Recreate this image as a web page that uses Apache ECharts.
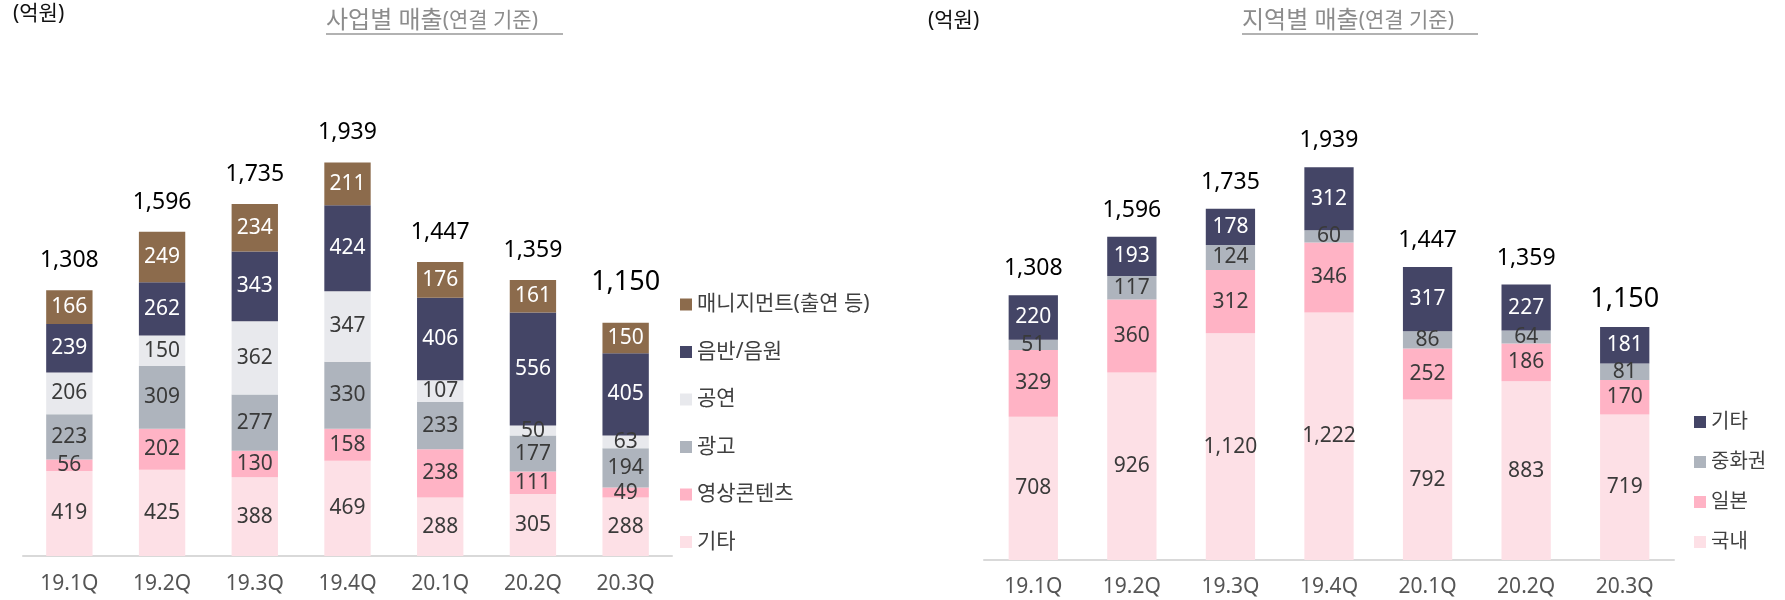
<!DOCTYPE html>
<html>
<head>
<meta charset="utf-8">
<script src="https://cdn.jsdelivr.net/npm/echarts@6/dist/echarts.min.js"></script>
<style>
  body { margin: 0; background: #fff; }
  #left { position: absolute; left: 0; top: 0; width: 900px; height: 600px; }
  #right { position: absolute; left: 900px; top: 0; width: 885px; height: 600px; }
</style>
</head>
<body>
<div id="left"></div>
<div id="right"></div>
<script>
'use strict';

// quarters on the x axis
const quarters = ['19.1Q', '19.2Q', '19.3Q', '19.4Q', '20.1Q', '20.2Q', '20.3Q'];

// totals printed above the bars (same for both charts)
const totals = [1308, 1596, 1735, 1939, 1447, 1359, 1150];

// business segments, bottom of the stack first
const bizEtc = [419, 425, 388, 469, 288, 305, 288];
const bizVideo = [56, 202, 130, 158, 238, 111, 49];
const bizAd = [223, 309, 277, 330, 233, 177, 194];
const bizConcert = [206, 150, 362, 347, 107, 50, 63];
const bizMusic = [239, 262, 343, 424, 406, 556, 405];
const bizMgmt = [166, 249, 234, 211, 176, 161, 150];

// regions, bottom of the stack first
const regKorea = [708, 926, 1120, 1222, 792, 883, 719];
const regJapan = [329, 360, 312, 346, 252, 186, 170];
const regChina = [51, 117, 124, 60, 86, 64, 81];
const regOther = [220, 193, 178, 312, 317, 227, 181];

const FONT = "'Noto Sans', 'Noto Sans CJK KR', sans-serif";

const C_BROWN = '#8c6b4c';
const C_NAVY = '#444566';
const C_LIGHTGRAY = '#e8e9ed';
const C_GRAY = '#aeb4bd';
const C_PINK = '#ffb3c5';
const C_LIGHTPINK = '#fde0e6';

function fmt(v) {
	return v.toLocaleString('en-US');
}

function segment(name, data, color, labelColor) {
	return {
		name: name,
		type: 'bar',
		stack: 'total',
		barWidth: '50%',
		data: data,
		itemStyle: { color: color },
		label: {
			show: true,
			position: 'inside',
			color: labelColor,
			fontFamily: FONT,
			fontSize: 21,
			formatter: function(p) { return fmt(p.value); }
		}
	};
}

// zero-height bar on top of the stack, used only to carry the total label
function totalSeries(distance, lastDistance) {
	const last = totals.length - 1;
	return {
		name: '합계',
		type: 'bar',
		stack: 'total',
		barWidth: '50%',
		data: totals.map(function(t, i) {
			if (i === last) {
				return { value: 0, label: { fontSize: 27, distance: lastDistance } };
			}
			return { value: 0 };
		}),
		itemStyle: { color: 'transparent' },
		label: {
			show: true,
			position: 'top',
			distance: distance,
			color: '#000',
			fontFamily: FONT,
			fontSize: 23,
			formatter: function(p) { return fmt(totals[p.dataIndex]); }
		}
	};
}

function titles(unitLeft, unitTop, main, mainLeft) {
	return [
		{
			text: '(억원)',
			left: unitLeft, top: unitTop, padding: 0,
			textStyle: { fontFamily: FONT, fontSize: 21, fontWeight: 'normal', color: '#111' }
		},
		{
			text: '{a|' + main + '}{b|(연결 기준)}',
			left: mainLeft, top: 9, padding: 0,
			textStyle: {
				fontWeight: 'normal',
				rich: {
					a: { fontFamily: FONT, fontSize: 24, fontWeight: 'normal', color: '#8c8c8c' },
					b: { fontFamily: FONT, fontSize: 21, fontWeight: 'normal', color: '#8c8c8c' }
				}
			}
		}
	];
}

function underline(x1, x2) {
	return [{
		type: 'line',
		shape: { x1: x1, y1: 34, x2: x2, y2: 34 },
		style: { stroke: '#999', lineWidth: 1.5 }
	}];
}

function baseOption(grid, labelMargin) {
	return {
		animation: false,
		grid: grid,
		xAxis: {
			type: 'category',
			data: quarters,
			axisLine: { lineStyle: { color: '#d9d9d9', width: 2 } },
			axisTick: { show: false },
			axisLabel: { color: '#555', fontFamily: FONT, fontSize: 21, margin: labelMargin }
		},
		yAxis: {
			type: 'value',
			min: 0,
			max: 2000,
			show: false,
			splitLine: { show: false }
		}
	};
}

// left: 사업별 매출
const leftChart = echarts.init(document.getElementById('left'));
const leftOption = baseOption({ left: 23, right: 228, top: 150, bottom: 44 }, 18);
leftOption.title = titles(13, 4, '사업별 매출', 326);
leftOption.graphic = underline(326, 563);
leftOption.legend = {
	orient: 'vertical',
	left: 675,
	top: 289,
	icon: 'rect',
	itemWidth: 12,
	itemHeight: 12,
	itemGap: 26.5,
	data: ['매니지먼트(출연 등)', '음반/음원', '공연', '광고', '영상콘텐츠', '기타'],
	textStyle: { fontFamily: FONT, fontSize: 21, color: '#404040' }
};
leftOption.series = [
	segment('기타', bizEtc, C_LIGHTPINK, '#3a3a3a'),
	segment('영상콘텐츠', bizVideo, C_PINK, '#3a3a3a'),
	segment('광고', bizAd, C_GRAY, '#3a3a3a'),
	segment('공연', bizConcert, C_LIGHTGRAY, '#3a3a3a'),
	segment('음반/음원', bizMusic, C_NAVY, '#fff'),
	segment('매니지먼트(출연 등)', bizMgmt, C_BROWN, '#fff'),
	totalSeries(18, 27)
];
leftChart.setOption(leftOption);

// right: 지역별 매출
const rightChart = echarts.init(document.getElementById('right'));
const rightOption = baseOption({ left: 84, right: 111, top: 155, bottom: 40 }, 17);
rightOption.title = titles(28, 11, '지역별 매출', 342);
rightOption.graphic = underline(342, 578);
rightOption.legend = {
	orient: 'vertical',
	left: 789,
	top: 407,
	icon: 'rect',
	itemWidth: 12,
	itemHeight: 12,
	itemGap: 20,
	data: ['기타', '중화권', '일본', '국내'],
	textStyle: { fontFamily: FONT, fontSize: 20, color: '#404040' }
};
rightOption.series = [
	segment('국내', regKorea, C_LIGHTPINK, '#3a3a3a'),
	segment('일본', regJapan, C_PINK, '#3a3a3a'),
	segment('중화권', regChina, C_GRAY, '#3a3a3a'),
	segment('기타', regOther, C_NAVY, '#fff'),
	totalSeries(15, 14)
];
rightChart.setOption(rightOption);
</script>
</body>
</html>
